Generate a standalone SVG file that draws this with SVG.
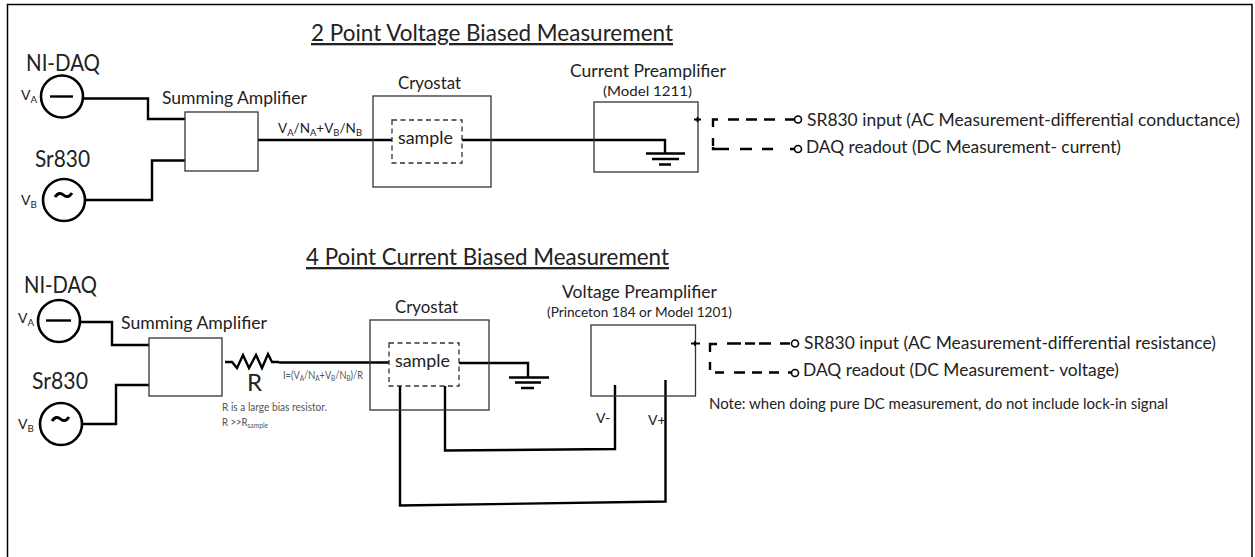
<svg xmlns="http://www.w3.org/2000/svg" width="1255" height="557" viewBox="0 0 1255 557">
<style>
text{font-family:Lato,"Liberation Sans",sans-serif;fill:#222}
.box{fill:none;stroke:#333;stroke-width:1.3}
.dash{fill:#fff;stroke:#333;stroke-width:1.3;stroke-dasharray:5 3.500}
.src{fill:#fff;stroke:#000;stroke-width:2.600}
.wire{fill:none;stroke:#000;stroke-width:2.400}
.thin{fill:none;stroke:#000;stroke-width:1.800}
.tilde{fill:none;stroke:#000;stroke-width:3}
.end{fill:#fff;stroke:#000;stroke-width:1.600}
.t{font-size:23px;text-decoration:underline}
.s{font-size:23px}
.m{font-size:17px}
.v{font-size:14px}
.sm{font-size:14px}
.o{font-size:18px}
.n{font-size:16px}
.g{font-size:11px;fill:#555}
.i{font-size:10.500px;fill:#555}
.sub{font-size:70%}
</style>
<rect width="1255" height="557" fill="#fff"/>
<path d="M7.500 557V4.500H1252V557" fill="none" stroke="#000" stroke-width="1.500"/>
<text class="t" x="311" y="41" textLength="362" lengthAdjust="spacingAndGlyphs">2 Point Voltage Biased Measurement</text>
<text class="t" x="306" y="265" textLength="363" lengthAdjust="spacingAndGlyphs">4 Point Current Biased Measurement</text>

<g id="connectors">
<path class="wire" d="M83 98.500H148V119H185"/>
<path class="wire" d="M85 200H152V160.500H185"/>
<path class="wire" d="M258 140H392"/>
<path class="wire" d="M462 140H665V153"/>
<path class="wire" d="M81 322H112V345H149"/>
<path class="wire" d="M83 424H116V385H149"/>
<path class="wire" d="M279 362.500H390"/>
<path class="wire" d="M459 363H528V377"/>
<path class="wire" d="M445 386V450.500L615 449V385"/>
<path class="wire" d="M400 386V505.500L665.500 501.500V380"/>
</g>

<g id="src-a1"><text class="s" x="26" y="71" textLength="74" lengthAdjust="spacingAndGlyphs">NI-DAQ</text><circle class="src" cx="62" cy="96.500" r="21"/><path class="wire" d="M50 96.500H73"/><text class="v" x="21" y="100">V<tspan class="sub" dy="3">A</tspan></text></g>
<g id="src-b1"><text class="s" x="35" y="167" textLength="55" lengthAdjust="spacingAndGlyphs">Sr830</text><circle class="src" cx="64" cy="200" r="21"/><path class="tilde" d="M55 197Q59 191 63.500 195T72 193"/><text class="v" x="21" y="205">V<tspan class="sub" dy="3">B</tspan></text></g>
<g id="sum1"><rect class="box" x="185" y="112" width="73" height="59"/><text class="m" x="162" y="104" textLength="145" lengthAdjust="spacingAndGlyphs">Summing Amplifier</text></g>
<text class="sm" x="278" y="133" textLength="84" lengthAdjust="spacingAndGlyphs">V<tspan class="sub" dy="3">A</tspan><tspan dy="-3">/N</tspan><tspan class="sub" dy="3">A</tspan><tspan dy="-3">+V</tspan><tspan class="sub" dy="3">B</tspan><tspan dy="-3">/N</tspan><tspan class="sub" dy="3">B</tspan></text>
<g id="cryo1"><rect class="box" x="373" y="96" width="118" height="91"/><text class="m" x="398" y="89" textLength="63" lengthAdjust="spacingAndGlyphs">Cryostat</text><rect x="392" y="120" width="70" height="43" class="dash"/><text class="m" x="398" y="144" textLength="55" lengthAdjust="spacingAndGlyphs">sample</text></g>
<g id="pre1"><text class="m" x="570" y="77" textLength="156" lengthAdjust="spacingAndGlyphs">Current Preamplifier</text><text class="sm" x="603" y="96" textLength="89" lengthAdjust="spacingAndGlyphs">(Model 1211)</text><rect class="box" x="594" y="102" width="104" height="70"/></g>
<g id="gnd1"><path class="wire" d="M646 153.500H685M652 159H679M659 164.500H671"/></g>
<g id="out1"><path class="thin" d="M694 119.500H701M697.500 117V122"/><path class="wire" d="M713 127V119.500H718M728 119.500H739M746 119.500H757M764 119.500H775M785 119.500H794M713 138V146M713 147V149H729M740 149H752M762 149H773M790 149H795"/><circle class="end" cx="798" cy="119.500" r="3.500"/><circle class="end" cx="798" cy="149" r="3.500"/><text class="o" x="807" y="126" textLength="433" lengthAdjust="spacingAndGlyphs">SR830 input (AC Measurement-differential conductance)</text><text class="o" x="806" y="153" textLength="315" lengthAdjust="spacingAndGlyphs">DAQ readout (DC Measurement- current)</text></g>

<g id="src-a2"><text class="s" x="24" y="293" textLength="73" lengthAdjust="spacingAndGlyphs">NI-DAQ</text><circle class="src" cx="59" cy="321" r="21"/><path class="wire" d="M46 320.500H71"/><text class="v" x="18" y="323">V<tspan class="sub" dy="3">A</tspan></text></g>
<g id="src-b2"><text class="s" x="32" y="389" textLength="56" lengthAdjust="spacingAndGlyphs">Sr830</text><circle class="src" cx="61" cy="424" r="21"/><path class="tilde" d="M52 421Q56 415 60.500 419T69 417"/><text class="v" x="18" y="429">V<tspan class="sub" dy="3">B</tspan></text></g>
<g id="sum2"><rect class="box" x="149" y="338" width="73" height="58"/><text class="m" x="121" y="329" textLength="146" lengthAdjust="spacingAndGlyphs">Summing Amplifier</text></g>
<g id="res"><path class="wire" d="M225 362H232L237 368L243 355L249 368L256 355L262 368L268 354L272 362H279"/><text x="247" y="391" font-size="24">R</text></g>
<text class="i" x="283" y="379" textLength="80" lengthAdjust="spacingAndGlyphs">I=(V<tspan class="sub" dy="2">A</tspan><tspan dy="-2">/N</tspan><tspan class="sub" dy="2">A</tspan><tspan dy="-2">+V</tspan><tspan class="sub" dy="2">B</tspan><tspan dy="-2">/N</tspan><tspan class="sub" dy="2">B</tspan><tspan dy="-2">)/R</tspan></text>
<text class="g" x="222" y="411" textLength="105" lengthAdjust="spacingAndGlyphs">R is a large bias resistor.</text>
<text class="g" x="222" y="426" textLength="46" lengthAdjust="spacingAndGlyphs">R &gt;&gt;R<tspan class="sub" dy="2">sample</tspan></text>
<g id="cryo2"><rect class="box" x="370" y="320" width="119" height="90"/><text class="m" x="395" y="313" textLength="63" lengthAdjust="spacingAndGlyphs">Cryostat</text><rect x="389" y="343" width="70" height="43" class="dash"/><text class="m" x="395" y="367" textLength="55" lengthAdjust="spacingAndGlyphs">sample</text></g>
<g id="gnd2"><path class="wire" d="M509 377.500H549M515 382.500H541M521 388H534"/></g>
<g id="pre2"><text class="m" x="562" y="298" textLength="155" lengthAdjust="spacingAndGlyphs">Voltage Preamplifier</text><text class="sm" x="547" y="317" textLength="185" lengthAdjust="spacingAndGlyphs">(Princeton 184 or Model 1201)</text><rect class="box" x="591" y="325" width="104.500" height="71"/><text class="sm" x="596" y="423">V-</text><text class="sm" x="648" y="425">V+</text></g>
<g id="out2"><path class="thin" d="M691 343.500H700M695 341V346"/><path class="wire" d="M710 352V344H717M727 343.500H741M745 343.500H755M759 343.500H771M780 343.500H790M710 362V370M715 372.500H724M734 372.500H745M752 372.500H762M769 372.500H779M788 372.500H792"/><circle class="end" cx="795" cy="343.500" r="3.500"/><circle class="end" cx="795" cy="373" r="3.500"/><text class="o" x="804" y="349" textLength="412" lengthAdjust="spacingAndGlyphs">SR830 input (AC Measurement-differential resistance)</text><text class="o" x="803" y="376" textLength="316" lengthAdjust="spacingAndGlyphs">DAQ readout (DC Measurement- voltage)</text><text class="n" x="709" y="409" textLength="459" lengthAdjust="spacingAndGlyphs">Note: when doing pure DC measurement, do not include lock-in signal</text></g>
</svg>
